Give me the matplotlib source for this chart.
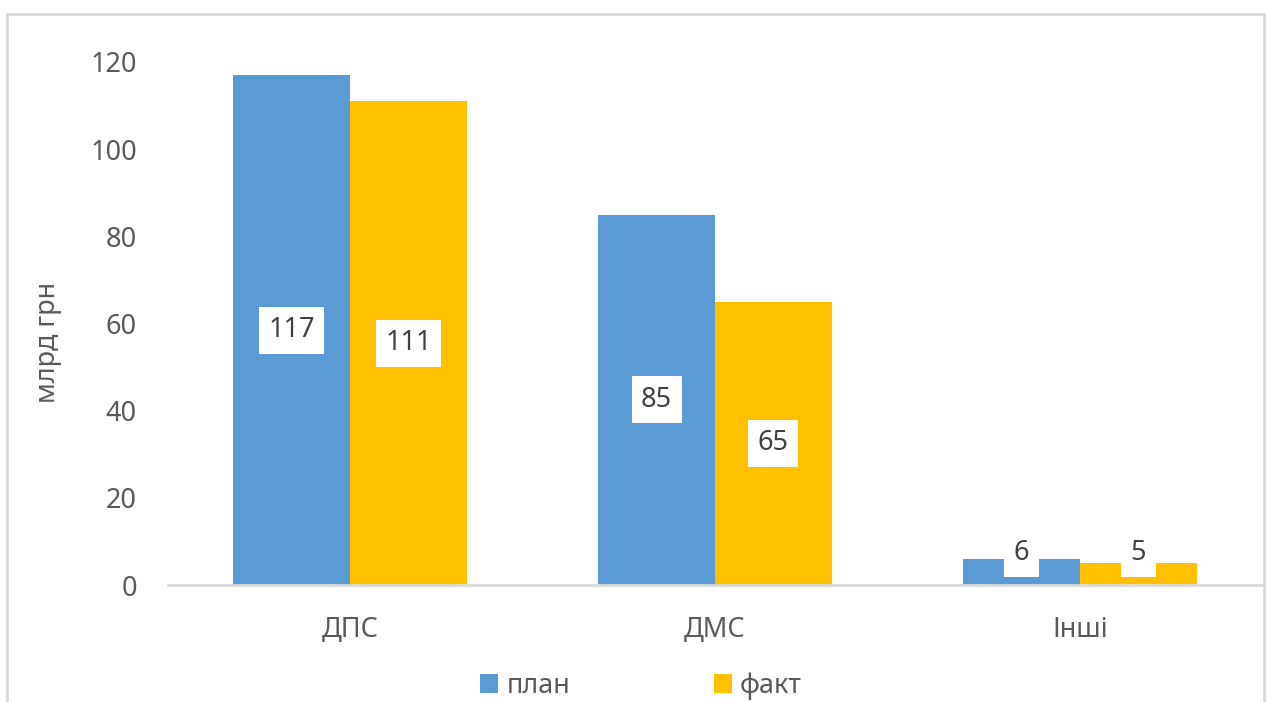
import matplotlib
matplotlib.use("Agg")
import matplotlib.pyplot as plt
from matplotlib.patches import Rectangle
import numpy as np

categories = ["ДПС", "ДМС", "Інші"]
plan = [117, 85, 6]
fact = [111, 65, 5]
series_names = ["план", "факт"]
y_ticks = [0, 20, 40, 60, 80, 100, 120]

plt.rcParams["font.family"] = ["Noto Sans", "DejaVu Sans"]

blue = "#5B9BD5"
gold = "#FFC000"
text_gray = "#595959"
label_gray = "#404040"

fig = plt.figure(figsize=(12.67, 7.02), dpi=100)
ax = fig.add_axes([167.5 / 1267, 117 / 702, 1095 / 1267, 523 / 702])

x = np.arange(len(categories))
w = 0.32
b1 = ax.bar(x - w / 2, plan, w, color=blue, label=series_names[0])
b2 = ax.bar(x + w / 2, fact, w, color=gold, label=series_names[1])

# labels in the middle of each bar, kept above the axis for short bars
min_mid = 7.3
for bars, vals in [(b1, plan), (b2, fact)]:
    for rect, v in zip(bars, vals):
        ax.text(rect.get_x() + rect.get_width() / 2, max(v / 2, min_mid), str(v),
                ha="center", va="center", fontsize=19.5, color=label_gray,
                bbox=dict(boxstyle="square,pad=0.35", fc="white", ec="none"))

ax.set_xlim(-0.5, len(categories) - 0.5)
ax.set_ylim(0, 120)
ax.set_yticks(y_ticks)
ax.set_xticks(x)
ax.set_xticklabels(categories)
ax.tick_params(axis="both", length=0, labelsize=19.5, colors=text_gray)
ax.tick_params(axis="y", pad=22)
ax.tick_params(axis="x", pad=22)
for s in ["top", "right", "left"]:
    ax.spines[s].set_visible(False)
ax.spines["bottom"].set_color("#D9D9D9")
ax.spines["bottom"].set_linewidth(2)

ax.set_ylabel("млрд грн", fontsize=19.5, color=text_gray)
ax.yaxis.set_label_coords(-0.096, 0.463)

leg = fig.legend(loc="center", bbox_to_anchor=(641 / 1267, 1 - 686 / 702), ncol=2,
                 frameon=False, fontsize=19.5, handlelength=0.68, handleheight=0.68,
                 handletextpad=0.3, columnspacing=5.3)
for t in leg.get_texts():
    t.set_color(text_gray)

# outer chart border (bottom edge falls outside the image)
fig.patches.append(Rectangle((7 / 1267, -0.05), 1257 / 1267, 1.05 - 14 / 702,
                             transform=fig.transFigure, fill=False,
                             ec="#D9D9D9", lw=2, zorder=0))

fig.savefig("out.png", dpi=100)
